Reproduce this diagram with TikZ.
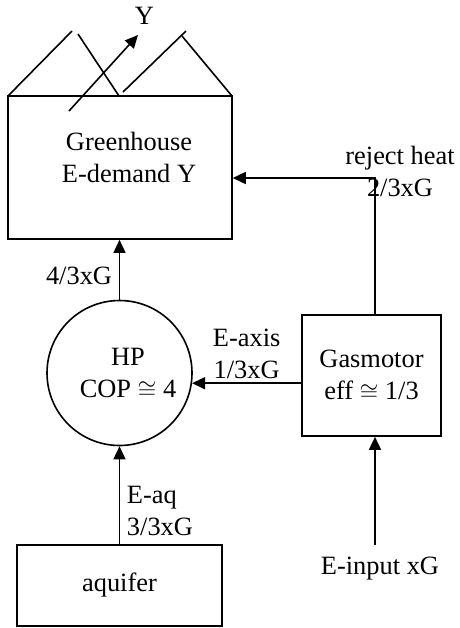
\documentclass[tikz,border=0pt]{standalone}
\usepackage{fontspec}
\setmainfont{Liberation Serif}
\usetikzlibrary{arrows.meta}

\begin{document}
\begin{tikzpicture}[x=0.5pt,y=-0.5pt,line width=0.8pt,
  >={Triangle[length=6.5pt,width=6pt]},
  every node/.style={font=\fontsize{13.2}{16}\selectfont},
  box/.style={draw,rectangle,inner sep=0pt}]
  \useasboundingbox (0,0) rectangle (460,628);
  % greenhouse and its roof
  \node (gh) [box,minimum width=112pt,minimum height=71.5pt,
    label={[align=center,xshift=4.5pt,yshift=5.25pt]center:Greenhouse\\E-demand Y}] at (120,167.5) {};
  \draw (8,96) -- (72,31);
  \draw (78,34) -- (119,96);
  \draw (123,92) -- (186,31);
  \draw (182,36) -- (232,96);
  \coordinate (ytail) at (69,111);
  \coordinate (yhead) at (138,35);
  \draw[->] (ytail) -- (yhead);
  \node (ylab) at (144.5,15.5) {Y};
  % heat pump, motor, aquifer
  \node (hp) [draw,circle,minimum size=72.5pt,
    label={[align=center,xshift=4.25pt]center:HP\\COP $\cong$ 4}] at (119.5,373) {};
  \node (gm) [box,minimum width=69.5pt,minimum height=60.5pt,align=center] at (371.5,375.5) {Gasmotor\\eff $\cong$ 1/3};
  \node (aq) [box,minimum width=102.5pt,minimum height=40.5pt] at (119.5,585.5) {aquifer};
  \node (inp) at (380,569) {E-input xG};
  \coordinate (inbot) at (375,545);
  % flows
  \draw[->] (aq.north) -- node[right,pos=0.34,align=left] {E-aq\\3/3xG} (hp.south);
  \draw[->] (hp.north) -- node[left,pos=0.39] {4/3xG} (hp.north |- gh.south);
  \draw[->] (gm.west |- hp.-8) -- node[above,inner sep=2pt,align=center] {E-axis\\1/3xG} (hp.-8);
  \draw[->] ([xshift=1.75pt]gm.north) |- node[pos=0.5,xshift=12.5pt,yshift=3.5pt,align=center] {reject heat\\2/3xG} ([yshift=-5.25pt]gh.east);
  \draw[->] (inbot) -- (inbot |- gm.south);
\end{tikzpicture}
\end{document}
